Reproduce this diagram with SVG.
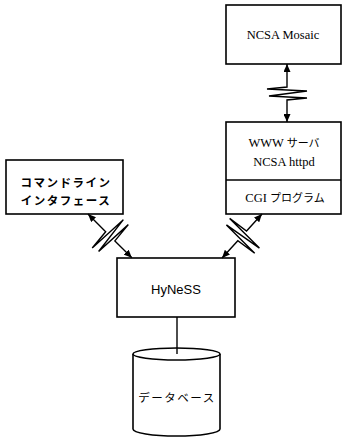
<svg xmlns="http://www.w3.org/2000/svg" width="344" height="440" viewBox="0 0 344 440">
<defs>
<style>
.box{fill:#fff;stroke:#000;stroke-width:1.6}
.ln{fill:none;stroke:#000;stroke-width:1.4;stroke-linejoin:miter}
.t{font-family:"Liberation Serif","Noto Sans CJK JP",serif;font-size:12.5px;fill:#000;text-anchor:middle}
.j{font-family:"Noto Sans CJK JP",sans-serif;font-size:11.5px;fill:#000;text-anchor:middle;letter-spacing:1.5px;font-weight:bold}
.jn{font-family:"Noto Sans CJK JP",sans-serif;font-size:11.5px;fill:#000;text-anchor:middle;letter-spacing:1.5px;font-weight:normal}
.s{font-family:"Liberation Sans",sans-serif;font-size:13px;fill:#000;text-anchor:middle}
</style>
<marker id="ah" markerUnits="userSpaceOnUse" markerWidth="9" markerHeight="7" refX="8" refY="3.5" orient="auto-start-reverse">
<path d="M0,0 L8,3.5 L0,7 z" fill="#000"/>
</marker>
</defs>
<rect width="344" height="440" fill="#fff"/>
<g id="mosaic">
<rect class="box" x="226" y="5" width="115" height="59"/>
<text class="t" x="283" y="39">NCSA Mosaic</text>
</g>
<g id="httpd">
<rect class="box" x="226" y="122" width="115" height="92"/>
<line class="ln" x1="226" y1="180" x2="341" y2="180"/>
<text class="t" x="284" y="147">WWW <tspan font-family="Noto Sans CJK JP" font-size="11">サーバ</tspan></text>
<text class="t" x="284" y="166">NCSA httpd</text>
<text class="t" x="285" y="202">CGI <tspan font-family="Noto Sans CJK JP" font-size="11">プログラム</tspan></text>
</g>
<g id="cmdline">
<rect class="box" x="6" y="160" width="117" height="54"/>
<text class="j" x="66" y="187">コマンドライン</text>
<text class="j" x="66" y="205">インタフェース</text>
</g>
<g id="hyness">
<rect class="box" x="117" y="258" width="118" height="59"/>
<text class="s" x="176" y="294">HyNeSS</text>
</g>
<g id="database">
<path class="box" d="M133,354 V429 A43.5,7 0 0 0 220,429 V354"/>
<ellipse class="box" cx="176.5" cy="354" rx="43.5" ry="6"/>
<text class="jn" x="177" y="402">データベース</text>
</g>
<g id="connectors">
<path class="ln" transform="translate(287,64)" d="M0,0 V23 L-20,25 L20,27 L-18,32 L20,34 L0,36 V58" marker-start="url(#ah)" marker-end="url(#ah)"/>
<path class="ln" transform="translate(88,214) rotate(-45)" d="M0,0 V25 L-21,27 L21,29 L-19,34 L21,36 L0,38 V62" marker-start="url(#ah)" marker-end="url(#ah)"/>
<path class="ln" transform="translate(262,214) rotate(42.2)" d="M0,0 V23 L-21,25 L21,27 L-19,32 L21,34 L0,36 V59.5" marker-start="url(#ah)" marker-end="url(#ah)"/>
<path class="ln" d="M177,317 V354"/>
</g>
</svg>
